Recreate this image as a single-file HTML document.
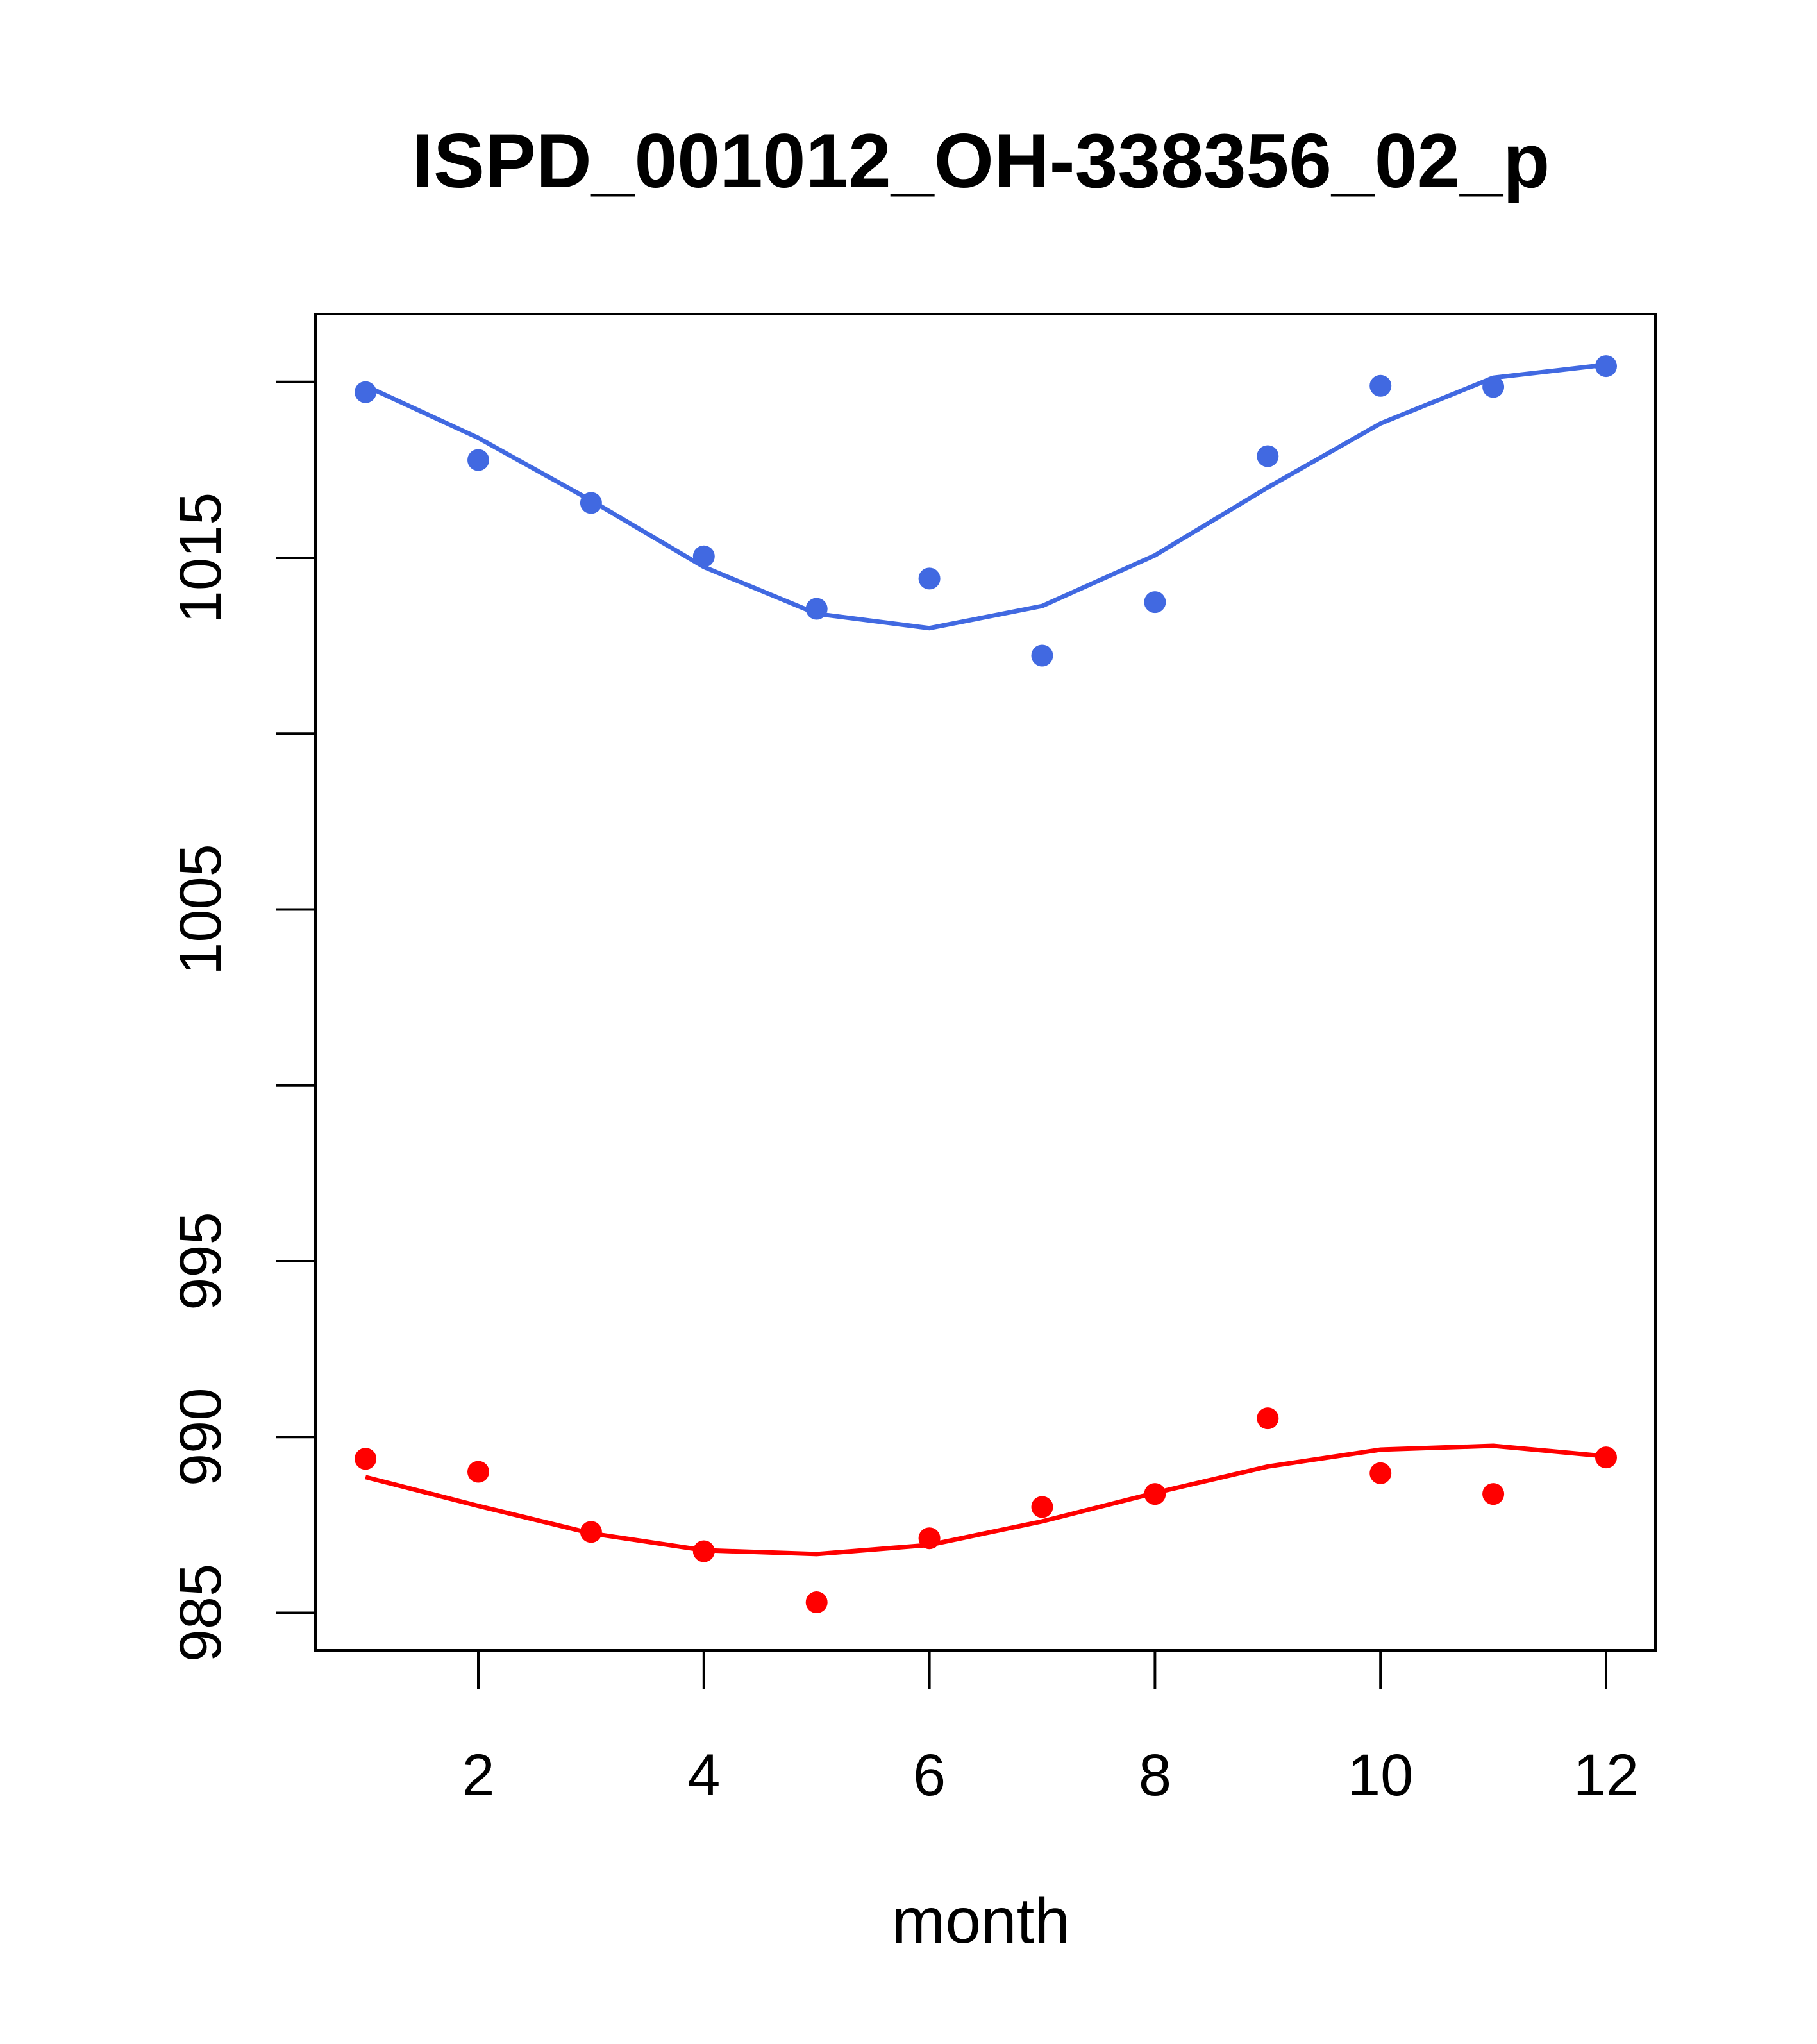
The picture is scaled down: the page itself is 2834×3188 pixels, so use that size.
<!DOCTYPE html>
<html><head><meta charset="utf-8"><style>html,body{margin:0;padding:0;background:#fff}svg{display:block}</style></head>
<body>
<svg id="chart" width="2834" height="3188" xmlns="http://www.w3.org/2000/svg" font-family="Liberation Sans, Arial, sans-serif">
<text x="1530" y="292" font-size="120" font-weight="bold" text-anchor="middle">ISPD_001012_OH-338356_02_p</text>
<rect x="492" y="490" width="2090" height="2084" fill="none" stroke="#000" stroke-width="4"/>
<g id="axes"></g>
<g id="series"></g>
<text x="1530" y="3030" font-size="100" text-anchor="middle">month</text>
</svg>
<script>
const months=[1,2,3,4,5,6,7,8,9,10,11,12];
const bluePoints=[1019.71,1017.78,1016.56,1015.04,1013.55,1014.41,1012.22,1013.74,1017.89,1019.89,1019.86,1020.45];
const blueLine=[1019.89,1018.41,1016.63,1014.74,1013.41,1013.0,1013.63,1015.07,1017.0,1018.82,1020.12,1020.49];
const redPoints=[989.38,989.01,987.30,986.75,985.30,987.12,988.01,988.38,990.53,988.97,988.38,989.42];
const redLine=[988.86,988.04,987.26,986.78,986.67,986.93,987.60,988.41,989.16,989.64,989.75,989.45];
const xTicks=[2,4,6,8,10,12];
const yTicks=[985,990,995,1000,1005,1010,1015,1020];
const yLabels=[985,990,995,1005,1015];
const NS='http://www.w3.org/2000/svg';
const xs=m=>746+(m-2)*175.9;
const ys=v=>870+(1015-v)*54.85;
const axes=document.getElementById('axes'),series=document.getElementById('series');
function mk(tag,attrs,parent){const e=document.createElementNS(NS,tag);for(const k in attrs)e.setAttribute(k,attrs[k]);parent.appendChild(e);return e;}
xTicks.forEach(t=>{
  const l=mk('line',{x1:xs(t),x2:xs(t),y1:2574,y2:2635,stroke:'#000','stroke-width':4},axes);
  
  
  const tx=mk('text',{x:xs(t),y:2800,'font-size':92,'text-anchor':'middle'},axes);tx.textContent=t;
  
  
});
yTicks.forEach(t=>{
  const l=mk('line',{x1:431,x2:492,y1:ys(t),y2:ys(t),stroke:'#000','stroke-width':4},axes);
  
  
});
yLabels.forEach(t=>{
  const tx=mk('text',{x:0,y:0,'font-size':92,'text-anchor':'middle',transform:`translate(344,${ys(t)}) rotate(-90)`},axes);tx.textContent=t;
  
  
});
function draw(pts,line,color,name){
  const p=mk('polyline',{points:months.map((m,i)=>xs(m)+','+ys(line[i])).join(' '),fill:'none',stroke:color,'stroke-width':7},series);
  
  
  months.forEach((m,i)=>{
    const c=mk('circle',{cx:xs(m),cy:ys(pts[i]),r:17,fill:color},series);
    
    
  });
}
draw(bluePoints,blueLine,'#4169E1','blue');
draw(redPoints,redLine,'#FF0000','red');
</script>
</body></html>
